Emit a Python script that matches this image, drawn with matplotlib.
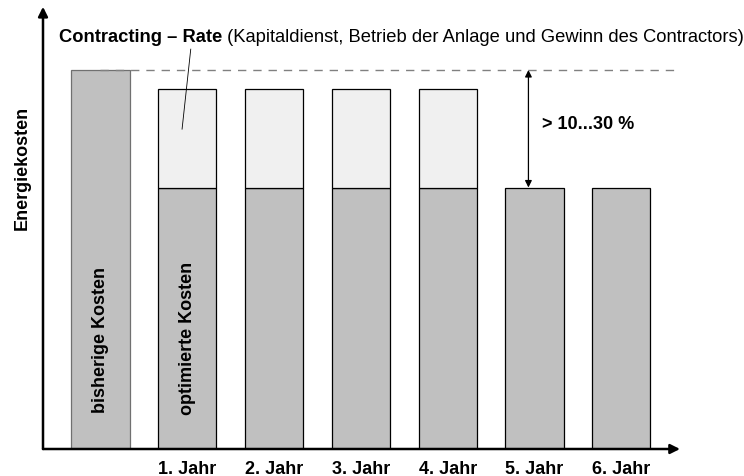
import matplotlib.pyplot as plt

plt.rcParams['font.family'] = ['Liberation Sans', 'DejaVu Sans']

# Energiekosten: bisher vs. optimiert mit Contracting-Rate
jahre = ['1. Jahr', '2. Jahr', '3. Jahr', '4. Jahr', '5. Jahr', '6. Jahr']
bisherige_kosten = 100
optimierte_kosten = [69, 69, 69, 69, 69, 69]
contracting_rate = [26, 26, 26, 26, 0, 0]

fs = 13

fig = plt.figure(figsize=(7.44, 4.77), dpi=100)
ax = fig.add_axes([43 / 744, 27 / 477, 637 / 744, 440 / 477])

breite = 0.67
ax.bar(0, bisherige_kosten, width=breite, color='#c0c0c0', edgecolor='#707070', linewidth=0.9)

pos = list(range(1, len(jahre) + 1))
ax.bar(pos, optimierte_kosten, width=breite, color='#c0c0c0', edgecolor='black', linewidth=0.9)
for x, unten, rate in zip(pos, optimierte_kosten, contracting_rate):
    if rate > 0:
        ax.bar(x, rate, bottom=unten, width=breite, color='#f0f0f0', edgecolor='black', linewidth=0.9)

ax.set_xlim(-0.662, 6.676)
ax.set_ylim(0, 116.1)

# Achsen mit Pfeilspitzen
for s in ax.spines.values():
    s.set_visible(False)
ax.annotate('', xy=(0, 1.005), xytext=(0, 0), xycoords='axes fraction',
            arrowprops=dict(arrowstyle='-|>', color='black', lw=1.8, mutation_scale=14, shrinkA=0, shrinkB=0))
ax.annotate('', xy=(1, 0), xytext=(0, 0), xycoords='axes fraction',
            arrowprops=dict(arrowstyle='-|>', color='black', lw=1.8, mutation_scale=14, shrinkA=0, shrinkB=0))

ax.set_xticks(pos)
ax.set_xticklabels(jahre, fontweight='bold', fontsize=fs)
ax.set_yticks([])
ax.tick_params(axis='x', length=0, pad=8)

fig.text(22 / 744, 1 - 168 / 477, 'Energiekosten', rotation=90, fontweight='bold',
         fontsize=fs, ha='center', va='center')

# Balkenbeschriftung
ax.text(0, 29, 'bisherige Kosten', rotation=90, fontweight='bold', fontsize=fs,
        ha='center', va='center')
ax.text(1, 29.5, 'optimierte Kosten', rotation=90, fontweight='bold', fontsize=fs,
        ha='center', va='center')

# Einsparung gegenüber bisherigen Kosten
ax.plot([0, 6.64], [bisherige_kosten, bisherige_kosten], color='#808080', lw=1.0,
        dashes=(6, 5), zorder=1)
ax.annotate('', xy=(4.93, bisherige_kosten), xytext=(4.93, optimierte_kosten[4]),
            arrowprops=dict(arrowstyle='<|-|>', color='black', lw=0.9, mutation_scale=10,
                            shrinkA=0, shrinkB=0))
ax.text(5.09, 85.8, '> 10...30 %', fontweight='bold', fontsize=fs, ha='left', va='center')

# Titelzeile mit Hinweislinie
t1 = fig.text(59 / 744, 1 - 37 / 477, 'Contracting – Rate', fontweight='bold',
              fontsize=13.2, ha='left', va='center')
ax.annotate(' (Kapitaldienst, Betrieb der Anlage und Gewinn des Contractors)',
            xy=(1, 0), xycoords=t1, ha='left', va='bottom', fontsize=13.2,
            annotation_clip=False)
ax.plot([1.04, 0.94], [105.5, 84.4], color='black', lw=0.6, clip_on=False)

fig.savefig('out.png', dpi=100)
